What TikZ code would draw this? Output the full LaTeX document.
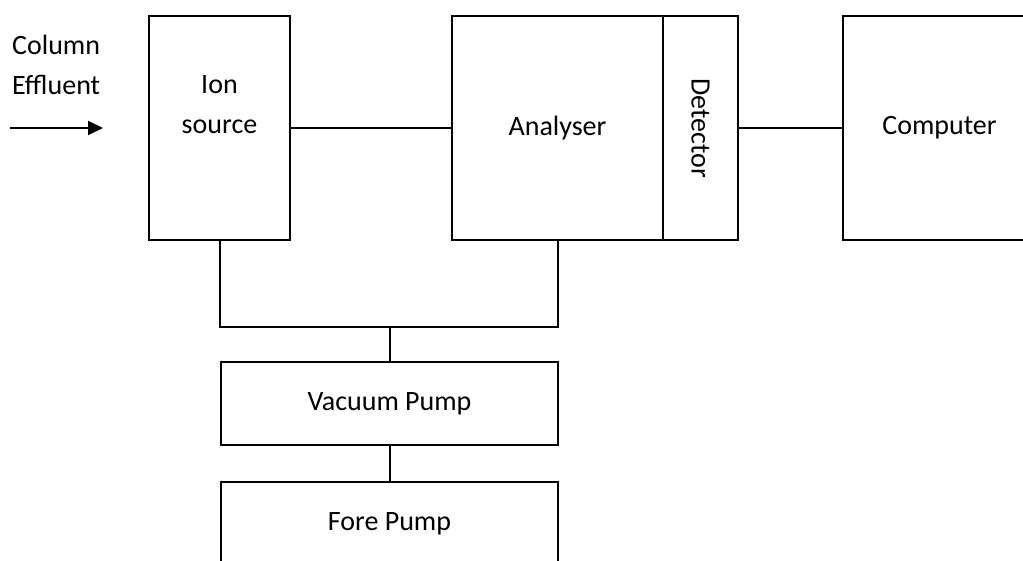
\documentclass[tikz,border=0pt]{standalone}
\usepackage{fontspec}
\setmainfont{Carlito}
\usetikzlibrary{positioning,arrows.meta}

\begin{document}
\begin{tikzpicture}[
    x=1pt, y=-1pt,
    % block styles (1pt = 1 pixel of the layout)
    every node/.style={font=\fontsize{28pt}{40pt}\selectfont},
    unit/.style={rectangle, draw, line width=2pt, outer sep=0pt, inner sep=0pt},
    link/.style={draw, line width=2pt},
    feedarrow/.style={line width=2pt, -{Triangle[length=15pt, width=14pt]}},
    toptext/.style={align=center, anchor=north, inner sep=0pt}
]

% canvas, cropped like the original
\useasboundingbox (0,0) rectangle (1023,560);
\clip (0,0) rectangle (1023,560);

% Column effluent inlet
\node[align=left, anchor=north west, inner sep=0pt] (effluent) at (12,35) {Column\\Effluent};
\coordinate (feedin) at (10,128);
\coordinate (feedout) at (103,128);
\draw[feedarrow] (feedin) -- (feedout);

% Main chain of the mass spectrometer
\node[unit, minimum width=141pt, minimum height=224pt,
      label={[toptext, yshift=-59pt]north:Ion\\source}] (ionsrc) at (219.5,128) {};
\node[unit, minimum width=211pt, minimum height=224pt, right=162pt of ionsrc] (analyser) {Analyser};
\node[unit, minimum width=75pt, minimum height=224pt, right=0pt of analyser] (detector) {\rotatebox{-90}{Detector}};
\node[unit, minimum width=193pt, minimum height=224pt, right=105pt of detector] (computer) {Computer};

\draw[link] (ionsrc.east) -- (analyser.west);
\draw[link] (detector.east) -- (computer.west);

% Pumping system
\node[unit, minimum width=337pt, minimum height=83pt] (vacpump) at (389.5,403.5) {Vacuum Pump};
\node[unit, minimum width=337pt, minimum height=83pt, below=37pt of vacpump] (forepump) {Fore Pump};

% vacuum manifold
\coordinate (bus) at (0,327);
\draw[link] (ionsrc.south) |- (analyser.south |- bus) -- (analyser.south);
\draw[link] (vacpump.north) -- (vacpump.north |- bus);
\draw[link] (vacpump.south) -- (forepump.north);

\end{tikzpicture}
\end{document}
